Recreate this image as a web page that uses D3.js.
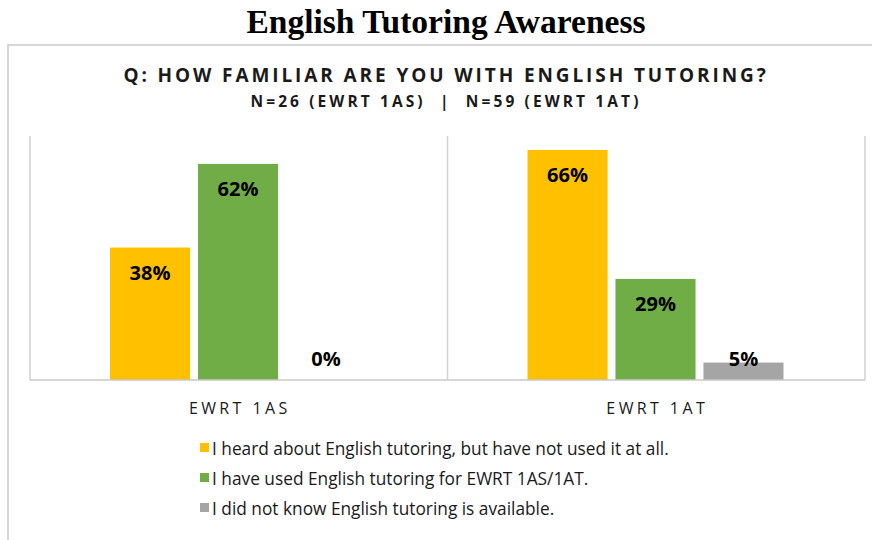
<!DOCTYPE html>
<html>
<head>
<meta charset="utf-8">
<script src="https://cdn.jsdelivr.net/npm/d3@7"></script>
<style>
  body { margin: 0; background: #fff; }
  svg { display: block; }
</style>
</head>
<body>
<div id="chart"></div>
<script>
// data
var categories = ['EWRT 1AS', 'EWRT 1AT'];
var seriesNames = [
    'I heard about English tutoring, but have not used it at all.',
    'I have used English tutoring for EWRT 1AS/1AT.',
    'I did not know English tutoring is available.'
];
var heardValues = [38, 66];
var usedValues = [62, 29];
var unawareValues = [0, 5];
var seriesColors = ['#FFC000', '#70AD47', '#A5A5A5'];

var svgWidth = 872;
var svgHeight = 540;

var plot = { left: 30, right: 865, top: 136, bottom: 380 };

var svg = d3.select('#chart')
    .append('svg')
    .attr('width', svgWidth)
    .attr('height', svgHeight);

// main title
svg.append('text')
    .attr('x', 446)
    .attr('y', 33)
    .attr('text-anchor', 'middle')
    .style('font-family', '"Liberation Serif", "Times New Roman", serif')
    .style('font-weight', 'bold')
    .style('font-size', '33.5px')
    .style('fill', '#000')
    .text('English Tutoring Awareness');

// outer chart frame (top + left only visible)
svg.append('path')
    .attr('d', 'M8,540 V45 H872')
    .attr('fill', 'none')
    .attr('stroke', '#c8c8c8')
    .attr('stroke-width', 1.5);

// chart title lines
svg.append('text')
    .attr('x', 446)
    .attr('y', 82)
    .attr('text-anchor', 'middle')
    .style('font-family', '"Open Sans", "Noto Sans", sans-serif')
    .style('font-weight', 'bold')
    .style('font-size', '19px')
    .style('letter-spacing', '2.9px')
    .style('fill', '#1a1a1a')
    .text('Q: HOW FAMILIAR ARE YOU WITH ENGLISH TUTORING?');

svg.append('text')
    .attr('x', 446)
    .attr('y', 107)
    .attr('text-anchor', 'middle')
    .style('font-family', '"Open Sans", "Noto Sans", sans-serif')
    .style('font-weight', 'bold')
    .style('font-size', '15.5px')
    .style('letter-spacing', '3.1px')
    .style('fill', '#1a1a1a')
    .style('white-space', 'pre')
    .text('N=26 (EWRT 1AS)  |  N=59 (EWRT 1AT)');

// scales
var x0 = d3.scaleBand()
    .domain(categories)
    .range([plot.left, plot.right]);

var x1 = d3.scaleBand()
    .domain(d3.range(seriesNames.length))
    .range([80, 336])
    .paddingInner(0.09);

var yScale = d3.scaleLinear()
    .domain([0, 70])
    .range([plot.bottom, plot.top]);

// category separators (Excel style tick lines spanning the plot)
var sepX = [plot.left].concat(categories.map(c => x0(c) + x0.bandwidth()));
svg.append('g').selectAll('line')
    .data(sepX)
    .enter()
    .append('line')
    .attr('x1', d => d)
    .attr('x2', d => d)
    .attr('y1', plot.top)
    .attr('y2', plot.bottom)
    .attr('stroke', '#d0d0d0')
    .attr('stroke-width', 1.5);

var rows = [];
categories.forEach(function(c, i) {
    [heardValues, usedValues, unawareValues].forEach(function(vals, s) {
        rows.push({ cat: c, s: s, value: vals[i] });
    });
});

var bars = svg.append('g');
bars.selectAll('rect')
    .data(rows)
    .enter()
    .append('rect')
    .attr('x', d => x0(d.cat) + x1(d.s))
    .attr('y', d => yScale(d.value))
    .attr('width', x1.bandwidth())
    .attr('height', d => plot.bottom - yScale(d.value))
    .attr('fill', d => seriesColors[d.s]);

bars.selectAll('text')
    .data(rows)
    .enter()
    .append('text')
    .attr('x', d => x0(d.cat) + x1(d.s) + x1.bandwidth() / 2)
    .attr('y', d => Math.min(yScale(d.value) + 32, plot.bottom - 14))
    .attr('text-anchor', 'middle')
    .style('font-family', '"Open Sans", "Noto Sans", sans-serif')
    .style('font-weight', 'bold')
    .style('font-size', '20px')
    .style('fill', '#000')
    .text(d => d.value + '%');

// x axis baseline
svg.append('line')
    .attr('x1', plot.left)
    .attr('x2', plot.right)
    .attr('y1', plot.bottom)
    .attr('y2', plot.bottom)
    .attr('stroke', '#c8c8c8')
    .attr('stroke-width', 1.5);

// category labels
svg.append('g').selectAll('text')
    .data(categories)
    .enter()
    .append('text')
    .attr('x', d => x0(d) + x0.bandwidth() / 2 + 1)
    .attr('y', 414)
    .attr('text-anchor', 'middle')
    .style('font-family', '"Open Sans", "Noto Sans", sans-serif')
    .style('font-size', '16px')
    .style('letter-spacing', '3.4px')
    .style('fill', '#1a1a1a')
    .text(d => d);

// legend
var legend = svg.append('g').attr('transform', 'translate(200,0)');
var legendRows = legend.selectAll('g')
    .data(seriesNames)
    .enter()
    .append('g')
    .attr('transform', (d, i) => `translate(0,${455 + i * 30})`);

legendRows.append('rect')
    .attr('x', 0)
    .attr('y', -12)
    .attr('width', 9)
    .attr('height', 9)
    .attr('fill', (d, i) => seriesColors[i]);

legendRows.append('text')
    .attr('x', 12)
    .attr('y', 0)
    .style('font-family', '"Open Sans", "Noto Sans", sans-serif')
    .style('font-size', '17.3px')
    .style('fill', '#1a1a1a')
    .text(d => d);
</script>
</body>
</html>
